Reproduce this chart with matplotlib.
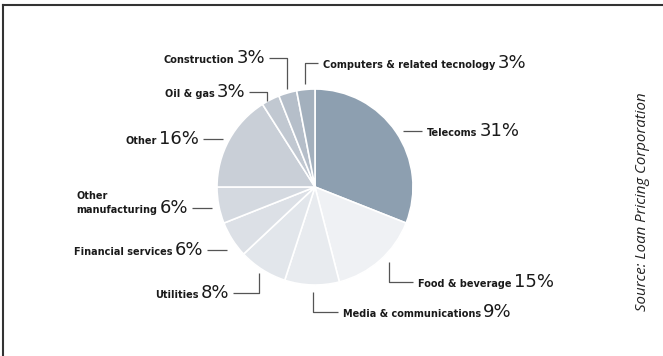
import matplotlib.pyplot as plt

W, H = 663, 356

# sector breakdown, clockwise from 12 o'clock
sectors = ["Telecoms", "Food & beverage", "Media & communications", "Utilities",
           "Financial services", "Other\nmanufacturing", "Other", "Oil & gas",
           "Construction", "Computers & related tecnology"]
shares = [31, 15, 9, 8, 6, 6, 16, 3, 3, 3]
colors = ["#8d9fb0", "#eff1f4", "#e8ebef", "#e2e6eb", "#dce0e6", "#d4d9e0",
          "#c9cfd7", "#c1c8d1", "#b5bec9", "#a3b0bd"]

# leader lines (image px, y down); label goes where the last segment points
leaders = [
    [(403, 131), (422, 131)],
    [(389, 262), (389, 282), (413, 282)],
    [(313, 292), (313, 312), (338, 312)],
    [(259, 273), (259, 293), (233, 293)],
    [(227, 250), (207, 250)],
    [(212, 208), (192, 208)],
    [(223, 139), (203, 139)],
    [(267, 101), (267, 92), (249, 92)],
    [(287, 89), (287, 58), (269, 58)],
    [(305, 84), (305, 63), (318, 63)],
]

NAME_FONT = dict(family=["Liberation Sans Narrow", "DejaVu Sans"], size=7,
                 weight="bold", color="#1a1a1a")
PCT_FONT = dict(family=["Liberation Sans Narrow", "DejaVu Sans"], size=13,
                color="#1a1a1a")

fig = plt.figure(figsize=(W / 100, H / 100), dpi=100)
ax = fig.add_axes([0, 0, 1, 1])

cx, cy, r = 315, H - 187, 98
ax.pie(shares, colors=colors, startangle=90, counterclock=False,
       center=(cx, cy), radius=r, frame=True,
       wedgeprops=dict(edgecolor="white", linewidth=1.2))
ax.set_xlim(0, W)
ax.set_ylim(0, H)
ax.set_aspect("equal")
ax.axis("off")

renderer = fig.canvas.get_renderer()


def width(t):
    return t.get_window_extent(renderer).width


for name, pct, path in zip(sectors, shares, leaders):
    xs = [p[0] for p in path]
    ys = [H - p[1] for p in path]
    ax.plot(xs, ys, color="#555555", lw=0.9, solid_capstyle="butt")
    x_end, y_end = path[-1]
    base = H - (y_end + 5)
    lines = name.split("\n")
    if xs[-1] > xs[-2]:
        # label to the right of the leader
        x0 = x_end + 5
        t = ax.text(x0, base, lines[-1], ha="left", va="baseline", **NAME_FONT)
        ax.text(x0 + width(t) + 2, base, f"{pct}%", ha="left", va="baseline",
                **PCT_FONT)
    else:
        x0 = x_end - 4
        p = ax.text(x0, base, f"{pct}%", ha="right", va="baseline", **PCT_FONT)
        t = ax.text(x0 - width(p) - 2, base, lines[-1], ha="right",
                    va="baseline", **NAME_FONT)
        x0 = x0 - width(p) - 2 - width(t)
    for i, extra in enumerate(reversed(lines[:-1])):
        ax.text(x0, base + 14 * (i + 1), extra, ha="left", va="baseline",
                **NAME_FONT)

ax.text(643, H - 202, "Source: Loan Pricing Corporation", rotation=90,
        ha="center", va="center", family="Open Sans", style="italic",
        size=10.8, color="#222222")

# frame along top and left
ax.plot([3, W], [H - 5, H - 5], color="#333333", lw=1.5, clip_on=False)
ax.plot([3, 3], [0, H - 5], color="#333333", lw=1.5, clip_on=False)

fig.savefig("out.png", dpi=100)
